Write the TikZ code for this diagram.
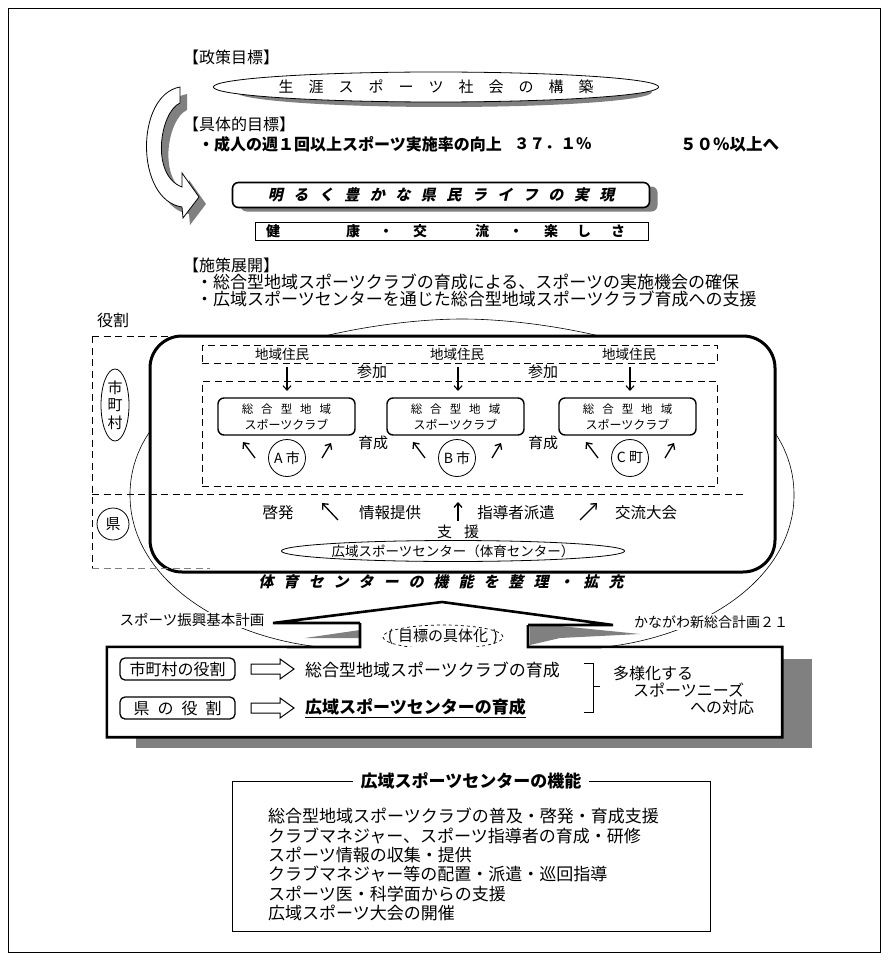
\documentclass[tikz,border=0pt]{standalone}
\usepackage{fontspec}
\setmainfont{Noto Sans CJK JP}
\newfontfamily\jpsl{Noto Sans CJK JP}[FakeSlant=0.22]
\usetikzlibrary{arrows.meta,shapes.geometric,calc}
\definecolor{shd}{RGB}{128,128,128}
\newcommand\fz[1]{\fontsize{#1}{#1}\selectfont}
\makeatletter
\newcommand\lsp[2]{\def\lsp@gap{#1}\let\lsp@sep\relax\@tfor\lsp@c:=#2\do{\lsp@sep\lsp@c\def\lsp@sep{\hspace{\lsp@gap}}}}
\makeatother
\begin{document}
\begin{tikzpicture}[x=1pt,y=-1pt,
  every node/.style={inner sep=0pt},
  arr/.style={-{Straight Barb[length=4.5pt,width=8pt]}, line width=1.3},
  dsh/.style={dash pattern=on 7pt off 4.5pt, line width=0.8},
  thinl/.style={line width=0.7},
  thk/.style={line width=2.6},
  rbox/.style={draw, rounded corners=5, line width=1.3},
  club/.style={draw, rounded corners=6, line width=1.4, minimum width=137, minimum height=37, align=center, font={\fontsize{11.5}{16}\selectfont}},
  town/.style={circle, draw, line width=0.8, minimum size=37, font=\fz{14}},
  lbl/.style={font=\fz{15}},
]
\useasboundingbox (0,0) rectangle (888,960);
\draw[thinl] (8,8) rectangle (880,952);

% ---------- policy goal ----------
\node[anchor=west, font=\fz{16}] (pg) at (183,57) {【政策目標】};
\node[ellipse, fill=shd, minimum width=416, minimum height=30] (goalsh) at (444,92) {};
\node[ellipse, draw, fill=white, line width=0.8, minimum width=416, minimum height=30] (goal) at (436,87) {\fz{15}\lsp{15pt}{生涯スポーツ社会の構築}};

% curved arrow
\fill[shd] (187,94) -- (187,110) .. controls (167,119) and (157,182) .. (189,194) -- (189,180) -- (206,204) -- (190,225) -- (189,214) .. controls (142,207) and (142,102) .. (187,94) -- cycle;
\draw[line width=0.8, fill=white] (180,87) -- (180,103) .. controls (160,112) and (150,175) .. (182,187) -- (182,173) -- (199,197) -- (183,218) -- (182,207) .. controls (135,200) and (135,95) .. (180,87) -- cycle;

% ---------- concrete goal ----------
\node[anchor=west, font=\fz{16}] (sg) at (183,124) {【具体的目標】};
\node[anchor=west, font=\fz{16}\bfseries] (sg1) at (198,144) {・成人の週１回以上スポーツ実施率の向上};
\node[anchor=west, font=\fz{15.5}\bfseries] (sg2) at (514,144) {３７．１％};
\node[anchor=west, font=\fz{16.5}\bfseries] (sg3) at (680,144) {５０％以上へ};

\node[rounded corners=6, fill=shd, minimum width=417, minimum height=25] (lifesh) at (449,199) {};
\node[draw, rounded corners=6, line width=1.6, fill=white, minimum width=417, minimum height=25] (life) at (441,195) {\jpsl\bfseries\fz{15}\lsp{10.5pt}{明るく豊かな県民ライフの実現}};
\node[draw, line width=0.8, minimum width=393, minimum height=18] (kenko) at (451.5,231) {};
\node[anchor=west, font=\fz{14}\bfseries] (kenkot) at (266,231) {健\hspace{66pt}康\hspace{19pt}・\hspace{20pt}交\hspace{48pt}流\hspace{20pt}・\hspace{21pt}楽\hspace{19pt}し\hspace{20pt}さ};

% ---------- measures ----------
\node[anchor=west, font=\fz{16}] (sd) at (183,265) {【施策展開】};
\node[anchor=west, font=\fz{17}] (sd1) at (196,282) {・総合型地域スポーツクラブの育成による、スポーツの実施機会の確保};
\node[anchor=west, font=\fz{17}] (sd2) at (196,299) {・広域スポーツセンターを通じた総合型地域スポーツクラブ育成への支援};
\node[anchor=west, font=\fz{16}] (yk) at (97,320) {役割};

% ---------- big thin outline ----------
\draw[line width=0.6] (330,648) .. controls (225,640) and (130,580) .. (130,495) .. controls (130,360) and (360,319) .. (462,319) .. controls (564,319) and (794,360) .. (794,495) .. controls (794,580) and (699,640) .. (594,648);

% big box
\node[draw, line width=3, fill=white, rounded corners=32, minimum width=625, minimum height=236] (bigbox) at (462.5,454) {};

% role frame (dashed)
\draw[dsh] (92,336) -- (182,336);
\draw[dsh] (92,336) -- (92,568);
\draw[dsh] (92,494) -- (745,494);
\draw[dsh, draw=shd] (92,568) -- (210,568);

\node[ellipse, draw, line width=0.8, minimum width=28, minimum height=72, align=center, font={\fontsize{15}{17.5}\selectfont}] (shi) at (115,405) {市\\町\\村};
\node[circle, draw, line width=0.8, minimum size=32, font=\fz{15}] (ken) at (113,524) {県};

% residents row
\node[draw, dsh, minimum width=515, minimum height=18] (resrow) at (459.5,354) {};
\node[draw, dsh, minimum width=515, minimum height=105] (clubarea) at (459.5,433.5) {};
\node[font=\fz{13.5}] (res1) at (282,354) {地域住民};
\node[font=\fz{13.5}] (res2) at (457,354) {地域住民};
\node[font=\fz{13.5}] (res3) at (629,354) {地域住民};
\node[lbl] (sanka1) at (372,372) {参加};
\node[lbl] (sanka2) at (543,372) {参加};

\node[club] (club1) at (286.5,416.5) {\lsp{8pt}{総合型地域}\\\fz{12}スポーツクラブ};
\node[club] (club2) at (455.5,416.5) {\lsp{8pt}{総合型地域}\\\fz{12}スポーツクラブ};
\node[club] (club3) at (627.5,416.5) {\lsp{8pt}{総合型地域}\\\fz{12}スポーツクラブ};

\coordinate (d1a) at (287,367); \coordinate (d1b) at (287,391);
\coordinate (d2a) at (458,367); \coordinate (d2b) at (458,391);
\coordinate (d3a) at (630,367); \coordinate (d3b) at (630,391);
\draw[arr, line width=1.1] (d1a) -- (d1b);
\draw[arr, line width=1.1] (d2a) -- (d2b);
\draw[arr, line width=1.1] (d3a) -- (d3b);

\node[town] (ta) at (287,458) {A 市};
\node[town] (tb) at (457,458) {B 市};
\node[town] (tc) at (630,458) {C 町};
\foreach \t in {ta,tb,tc}{
  \draw[arr] ($(\t)+(-32,0)$) -- ($(\t)+(-44,-16)$);
  \draw[arr] ($(\t)+(35,0)$) -- ($(\t)+(44,-15)$);
}
\node[lbl] (iku1) at (373,443) {育成};
\node[lbl] (iku2) at (543,443) {育成};

% prefecture row
\node[font=\fz{15.5}] (keihatsu) at (278,513) {啓発};
\node[font=\fz{15.5}] (joho) at (390,513) {情報提供};
\node[font=\fz{15.5}] (shido) at (516,513) {指導者派遣};
\node[font=\fz{15.5}] (koryu) at (646,513) {交流大会};
\coordinate (a1a) at (338,520); \coordinate (a1b) at (322,503);
\coordinate (a2a) at (458,521); \coordinate (a2b) at (458,502);
\coordinate (a3a) at (580,520); \coordinate (a3b) at (597,503);
\draw[arr] (a1a) -- (a1b);
\draw[arr] (a2a) -- (a2b);
\draw[arr] (a3a) -- (a3b);
\node[lbl] (shien) at (458,532) {支\hspace{12pt}援};
\node[ellipse, draw, line width=0.8, minimum width=342, minimum height=21, font=\fz{13.5}] (center) at (453,551) {広域スポーツセンター（体育センター）};

\node[font=\jpsl\bfseries\fz{15}] (expand) at (441,582) {\lsp{10pt}{体育センターの機能を整理・拡充}};

% ---------- roof ----------
\fill[shd] (305,638) -- (360,630) -- (360,638) -- cycle;
\fill[shd] (530,626) -- (560,626) -- (640,634) -- (560,638) -- (530,645) -- cycle;
\draw[thk, line join=miter] (360,623) -- (273,623) -- (442,602) -- (613,625) -- (528,625);
\node[fill=white, inner sep=1pt, font=\fz{14.5}] (plan1) at (192,620) {スポーツ振興基本計画};
\node[fill=white, inner sep=1pt, font=\fz{14}] (plan2) at (711,622) {かながわ新総合計画２１};
\node[font=\fz{15}] (gut) at (443,637) {(\hspace{5pt}目標の具体化\hspace{5pt})};
\draw[dashed, line width=0.7] (gut.center) ellipse [x radius=60pt, y radius=12pt];

% ---------- role box ----------
\fill[shd] (136,659) rectangle (812,748);
\node[fill=white, minimum width=675, minimum height=90] (rolebox) at (444.5,692) {};
\draw[thk] (360,623) -- (360,647) -- (rolebox.north west) -- (rolebox.south west) -- (rolebox.south east) -- (rolebox.north east) -- (528,647) -- (528,625);

\node[rbox, minimum width=115, minimum height=22, font=\fz{16}] (r1) at (177.5,669) {市町村の役割};
\node[rbox, minimum width=115, minimum height=22, font=\fz{16}] (r2) at (177.5,708) {\lsp{8pt}{県の役割}};
\draw[line width=1, fill=white] (251,664) -- (280,664) -- (280,659) -- (294,669) -- (280,679) -- (280,674) -- (251,674) -- cycle;
\draw[line width=1, fill=white] (251,703) -- (280,703) -- (280,698) -- (294,708) -- (280,718) -- (280,713) -- (251,713) -- cycle;
\node[anchor=west, font=\fz{17}] (r1t) at (305,670) {総合型地域スポーツクラブの育成};
\node[anchor=west, font=\fz{17}\bfseries] (r2t) at (305,708) {\underline{広域スポーツセンターの育成}};
\draw[line width=1] (584,663) -- (593,663) -- (593,686) -- (600,686);
\draw[line width=1] (593,686) -- (593,712) -- (584,712);
\node[anchor=west, font=\fz{16}] (needs1) at (613,673) {多様化する};
\node[anchor=west, font=\fz{16}] (needs2) at (633,690) {スポーツニーズ};
\node[anchor=west, font=\fz{16}] (needs3) at (690,707) {への対応};

% ---------- functions ----------
\node[draw, line width=0.6, minimum width=478, minimum height=150, anchor=north] (funcbox) at (471,781) {};
\node[fill=white, inner xsep=8pt, font=\fz{17}\bfseries] (ftitle) at (funcbox.north) {広域スポーツセンターの機能};
\node[anchor=north west, align=left, font={\fontsize{17}{19.4}\selectfont}] (flist) at (268,808) {総合型地域スポーツクラブの普及・啓発・育成支援\\クラブマネジャー、スポーツ指導者の育成・研修\\スポーツ情報の収集・提供\\クラブマネジャー等の配置・派遣・巡回指導\\スポーツ医・科学面からの支援\\広域スポーツ大会の開催};
\end{tikzpicture}
\end{document}
